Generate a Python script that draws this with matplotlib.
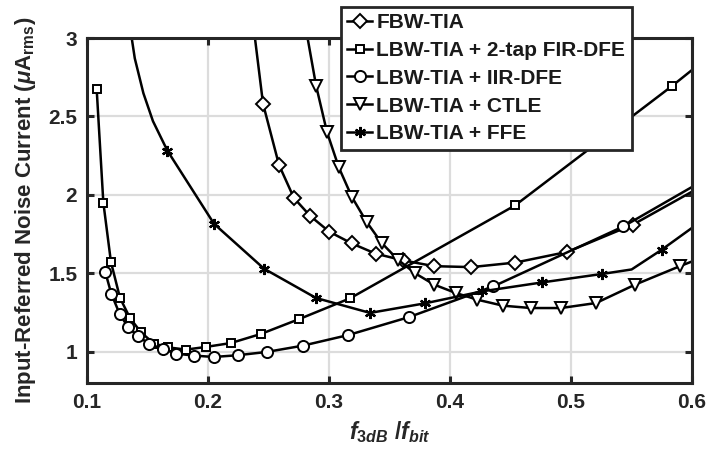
import matplotlib
matplotlib.use("Agg")
import matplotlib.pyplot as plt

plt.rcParams['font.family'] = ['Liberation Sans', 'DejaVu Sans']
plt.rcParams['font.weight'] = 'bold'
plt.rcParams['mathtext.fontset'] = 'custom'
plt.rcParams['mathtext.rm'] = 'Liberation Sans:bold'
plt.rcParams['mathtext.it'] = 'Liberation Sans:italic:bold'
plt.rcParams['mathtext.bf'] = 'Liberation Sans:bold'

# ---- data ----
fbw_x = [0.2372, 0.2455, 0.2587, 0.271, 0.2845, 0.3002, 0.3188, 0.3385, 0.3612, 0.3868, 0.4176, 0.4540, 0.4969, 0.5512, 0.6]
fbw_y = [3.10, 2.58, 2.19, 1.98, 1.865, 1.765, 1.69, 1.625, 1.582, 1.545, 1.539, 1.568, 1.636, 1.810, 2.02]

fir_x = [0.108, 0.1135, 0.1198, 0.1273, 0.1355, 0.1446, 0.1554, 0.1672, 0.1818, 0.1983, 0.2190, 0.2438, 0.2755, 0.3174, 0.4537, 0.5835, 0.6]
fir_y = [2.673, 1.951, 1.571, 1.342, 1.215, 1.123, 1.051, 1.027, 1.013, 1.030, 1.055, 1.113, 1.208, 1.340, 1.932, 2.694, 2.796]

iir_x = [0.1152, 0.1201, 0.1270, 0.1339, 0.1421, 0.1515, 0.1625, 0.1738, 0.1882, 0.2047, 0.2245, 0.2485, 0.2783, 0.3160, 0.3664, 0.4358, 0.5432, 0.6]
iir_y = [1.505, 1.369, 1.240, 1.157, 1.098, 1.049, 1.017, 0.987, 0.975, 0.966, 0.977, 0.998, 1.038, 1.106, 1.221, 1.416, 1.798, 2.05]

ctle_x = [0.280, 0.2893, 0.2983, 0.3081, 0.3190, 0.3310, 0.3434, 0.3570, 0.3713, 0.3870, 0.4048, 0.4227, 0.4438, 0.4670, 0.4917, 0.5207, 0.5529, 0.5900, 0.6]
ctle_y = [3.10, 2.697, 2.401, 2.175, 1.985, 1.828, 1.694, 1.586, 1.499, 1.427, 1.374, 1.331, 1.293, 1.278, 1.278, 1.310, 1.427, 1.545, 1.575]

ffe_x = [0.1340, 0.1395, 0.1466, 0.1545, 0.1664, 0.2050, 0.2463, 0.2893, 0.3339, 0.3793, 0.4262, 0.4758, 0.5253, 0.5501, 0.5750, 0.5998]
ffe_y = [3.15, 2.87, 2.648, 2.47, 2.282, 1.815, 1.529, 1.342, 1.247, 1.308, 1.384, 1.441, 1.495, 1.524, 1.650, 1.788]

labels = ['FBW-TIA', 'LBW-TIA + 2-tap FIR-DFE', 'LBW-TIA + IIR-DFE', 'LBW-TIA + CTLE', 'LBW-TIA + FFE']
xticks = [0.1, 0.2, 0.3, 0.4, 0.5, 0.6]
yticks = [1, 1.5, 2, 2.5, 3]
ytick_labels = ['1', '1.5', '2', '2.5', '3']

# ---- figure ----
W, H = 706, 458
fig = plt.figure(figsize=(W / 100, H / 100), dpi=100)
ax = fig.add_axes([87 / W, 1 - 383 / H, (692 - 87) / W, (383 - 38) / H])

lw = 1.8
mew = 1.4
common = dict(color='black', lw=lw, markerfacecolor='white', markeredgecolor='black', markeredgewidth=mew, clip_on=True)

n = len(fbw_x)
ax.plot(fbw_x, fbw_y, marker='D', markersize=7.5, markevery=list(range(1, n - 1)), label=labels[0], **common)
n = len(fir_x)
ax.plot(fir_x, fir_y, marker='s', markersize=5.5, markevery=list(range(0, n - 1)), label=labels[1], **common)
n = len(iir_x)
ax.plot(iir_x, iir_y, marker='o', markersize=8, markevery=list(range(0, n - 1)), label=labels[2], **common)
n = len(ctle_x)
ax.plot(ctle_x, ctle_y, marker='v', markersize=8.5, markevery=list(range(1, n - 1)), label=labels[3], **common)
ffe_marks = [4, 5, 6, 7, 8, 9, 10, 11, 12, 14]
ax.plot(ffe_x, ffe_y, marker=(6, 2, 0), markersize=8, markevery=ffe_marks, label=labels[4],
        color='black', lw=lw, markeredgecolor='black', markeredgewidth=1.6)

ax.set_xlim(0.1, 0.6)
ax.set_ylim(0.8, 3)
ax.set_xticks(xticks)
ax.set_xticklabels([f'{v:.1f}' for v in xticks])
ax.set_yticks(yticks)
ax.set_yticklabels(ytick_labels)

ax.grid(True, color='#dcdcdc', lw=1.6)
ax.set_axisbelow(True)
for s in ax.spines.values():
    s.set_linewidth(2.2)
    s.set_color('#262626')
ax.tick_params(direction='in', length=5, width=2.2, color='#262626', top=True, right=True,
               labelsize=15, pad=7, labelcolor='#262626')
for lab in ax.get_xticklabels() + ax.get_yticklabels():
    lab.set_fontweight('bold')

ax.set_xlabel(r'$\mathit{f}_{\mathit{3dB}}\ /\mathit{f}_{\mathit{bit}}$', fontsize=16.5, labelpad=5, color='#262626')
ax.set_ylabel(r'Input-Referred Noise Current ($\mathit{\mu}$A$_{\mathrm{rms}}$)', fontsize=16,
              fontweight='bold', labelpad=7, color='#262626')

leg = fig.legend(loc='upper left', bbox_to_anchor=(341 / W, 1 - 7 / H), bbox_transform=fig.transFigure,
                 borderaxespad=0, fancybox=False, framealpha=1, edgecolor='#262626',
                 prop={'size': 15, 'weight': 'bold'}, handlelength=1.2, handletextpad=0.2,
                 borderpad=0.3, labelspacing=0.42)
leg.get_frame().set_linewidth(2.0)
for t in leg.get_texts():
    t.set_color('#1a1a1a')

fig.savefig('out.png', dpi=100)
